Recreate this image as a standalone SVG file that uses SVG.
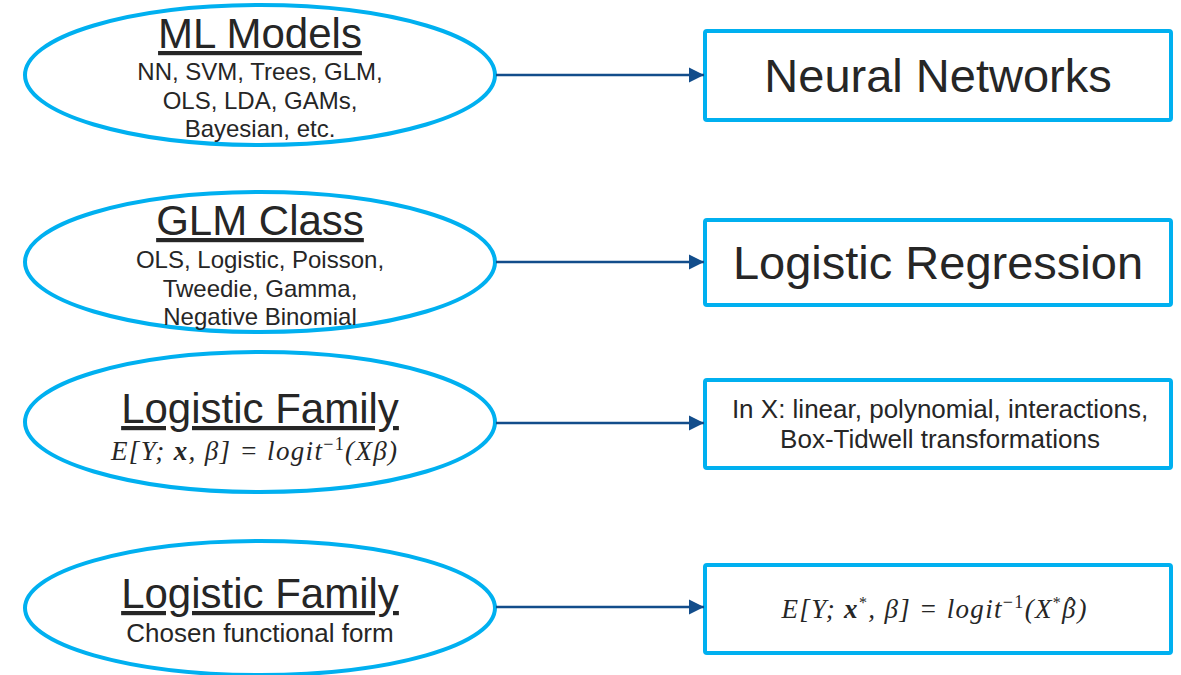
<svg xmlns="http://www.w3.org/2000/svg" width="1181" height="675" viewBox="0 0 1181 675">
  <style>
    .oval { fill: #ffffff; stroke: #00b0f0; stroke-width: 4; }
    .box { fill: #ffffff; stroke: #00b0f0; stroke-width: 4; }
    .title { font-family: "Liberation Sans", Arial, sans-serif; font-size: 42px; fill: #262626; text-anchor: middle; text-decoration: underline; }
    .sub { font-family: "Liberation Sans", Arial, sans-serif; font-size: 24px; fill: #262626; text-anchor: middle; }
    .big { font-family: "Liberation Sans", Arial, sans-serif; font-size: 47px; fill: #262626; text-anchor: middle; }
    .mid { font-family: "Liberation Sans", Arial, sans-serif; font-size: 26px; fill: #262626; text-anchor: middle; }
    .eq { font-family: "Liberation Serif", "Times New Roman", serif; font-style: italic; font-size: 27px; fill: #262626; text-anchor: middle; }
    .link { stroke: #124d8b; stroke-width: 2.5; fill: none; marker-end: url(#head); }
  </style>
  <defs>
    <marker id="head" markerUnits="userSpaceOnUse" markerWidth="16" markerHeight="16" viewBox="0 0 16 16" refX="15" refY="8" orient="auto">
      <path d="M0,0.5 L15,8 L0,15.5 Z" fill="#124d8b"/>
    </marker>
  </defs>

  <rect width="1181" height="675" fill="#ffffff"/>

  <!-- left column: model families -->
  <g id="ml-models">
    <ellipse class="oval" cx="260" cy="75" rx="235" ry="70"/>
    <text class="title" x="260" y="48">ML Models</text>
    <text class="sub" x="260" y="80">NN, SVM, Trees, GLM,</text>
    <text class="sub" x="260" y="108.5">OLS, LDA, GAMs,</text>
    <text class="sub" x="260" y="137">Bayesian, etc.</text>
  </g>

  <g id="glm-class">
    <ellipse class="oval" cx="260" cy="262" rx="235" ry="70"/>
    <text class="title" x="260" y="235">GLM Class</text>
    <text class="sub" x="260" y="268">OLS, Logistic, Poisson,</text>
    <text class="sub" x="260" y="296.5">Tweedie, Gamma,</text>
    <text class="sub" x="260" y="325">Negative Binomial</text>
  </g>

  <g id="logistic-family">
    <ellipse class="oval" cx="260" cy="422" rx="235" ry="70"/>
    <text class="title" x="260" y="423">Logistic Family</text>
    <text class="eq" x="254" y="460" textLength="286" lengthAdjust="spacing">E[Y; <tspan font-weight="bold">x</tspan>, β] = logit<tspan font-size="18" font-style="normal" dy="-10">−1</tspan><tspan dy="10">(Xβ)</tspan></text>
  </g>

  <g id="logistic-family-chosen">
    <ellipse class="oval" cx="260" cy="608" rx="235" ry="67"/>
    <text class="title" x="260" y="608">Logistic Family</text>
    <text class="mid" x="260" y="642">Chosen functional form</text>
  </g>

  <!-- right column: specific choices -->
  <g id="neural-networks">
    <rect class="box" x="705" y="31" width="466" height="89" rx="2"/>
    <text class="big" x="938" y="92">Neural Networks</text>
  </g>

  <g id="logistic-regression">
    <rect class="box" x="705" y="220" width="466" height="85" rx="2"/>
    <text class="big" x="938" y="279">Logistic Regression</text>
  </g>

  <g id="x-terms">
    <rect class="box" x="705" y="380" width="466" height="88" rx="2"/>
    <text class="mid" x="940" y="418">In X: linear, polynomial, interactions,</text>
    <text class="mid" x="940" y="448">Box-Tidwell transformations</text>
  </g>

  <g id="fitted-form">
    <rect class="box" x="705" y="565" width="466" height="88" rx="2"/>
    <!-- the circumflex is pulled back over the last beta with dx/dy -->
    <text class="eq" x="934" y="618" textLength="305" lengthAdjust="spacing">E[Y; <tspan font-weight="bold">x</tspan><tspan font-size="16" font-style="normal" dy="-10">*</tspan><tspan dy="10">, β] = logit</tspan><tspan font-size="18" font-style="normal" dy="-10">−1</tspan><tspan dy="10">(X</tspan><tspan font-size="16" font-style="normal" dy="-10">*</tspan><tspan dy="10">β</tspan><tspan font-size="22" font-style="normal" dx="-10" dy="-6">ˆ</tspan><tspan dx="2" dy="6">)</tspan></text>
  </g>

  <!-- connectors -->
  <g id="connectors">
    <line class="link" x1="496" y1="75" x2="704" y2="75"/>
    <line class="link" x1="496" y1="262" x2="704" y2="262"/>
    <line class="link" x1="496" y1="423" x2="704" y2="423"/>
    <line class="link" x1="496" y1="607" x2="704" y2="607"/>
  </g>
</svg>
